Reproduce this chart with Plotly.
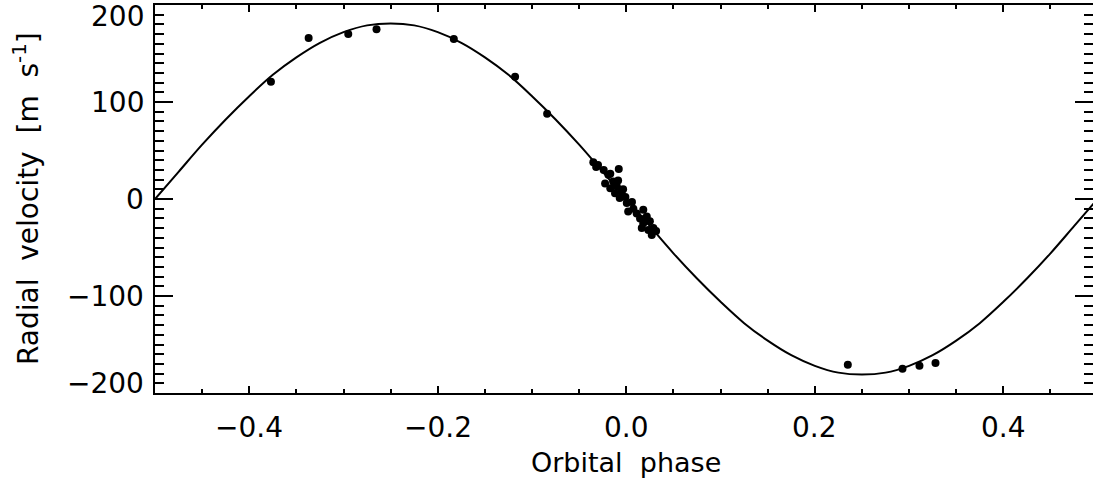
import plotly.graph_objects as go

# ---- data ----
obs_phase = [-0.377, -0.337, -0.295, -0.265, -0.183, -0.118, -0.084,
             -0.035, -0.030, -0.032, -0.024, -0.019, -0.017, -0.008, -0.0225,
             -0.014, -0.017, -0.010, -0.012, -0.005, -0.007, -0.001, 0.0005,
             0.006, 0.0075, 0.002, 0.011, 0.018, 0.0146, 0.0217, 0.018,
             0.025, 0.0164, 0.0234, 0.0287, 0.027, 0.0316, -0.0034, -0.0087,
             0.235, 0.293, 0.311, 0.328]
obs_rv = [121, 166, 170, 175, 165, 126, 88,
          38, 35, 33, 30, 25, 26, 31, 16,
          18, 11, 13, 6, 7.5, 1, 2, -4,
          -3, -10, -13, -15, -11, -20, -18, -25,
          -23, -30, -32, -30, -37, -33, 10, 19,
          -171, -175, -172, -169]

model_phase = [-0.500, -0.475, -0.450, -0.425, -0.400, -0.375, -0.350, -0.325,
               -0.300, -0.275, -0.250, -0.225, -0.200, -0.175, -0.150, -0.125,
               -0.100, -0.075, -0.050, -0.025, 0.000, 0.025, 0.050, 0.075,
               0.100, 0.125, 0.150, 0.175, 0.200, 0.225, 0.250, 0.275,
               0.300, 0.325, 0.350, 0.375, 0.400, 0.425, 0.450, 0.475, 0.500]
model_rv = [0, 28, 56, 82, 106, 128, 146, 161,
            172, 179, 181, 179, 172, 161, 146, 128,
            106, 82, 56, 28, 0, -28, -56, -82,
            -106, -128, -146, -161, -172, -179, -181, -179,
            -172, -161, -146, -128, -106, -82, -56, -28, 0]

x_ticks = [-0.4, -0.2, 0.0, 0.2, 0.4]
x_tick_text = ["\u22120.4", "\u22120.2", "0.0", "0.2", "0.4"]
y_ticks = [200, 100, 0, -100, -200]
y_tick_text = ["200", "100", "0", "\u2212100", "\u2212200"]
x_title = "Orbital\u00a0\u00a0phase"
y_title = "Radial\u00a0\u00a0velocity\u00a0\u00a0[m\u00a0\u00a0s<sup>-1</sup>]"

FONT = "DejaVu Sans"
BLACK = "black"

fig = go.Figure()
fig.add_trace(go.Scatter(x=model_phase, y=model_rv, mode="lines",
                         line=dict(color=BLACK, width=2, shape="spline"),
                         showlegend=False, hoverinfo="skip"))
fig.add_trace(go.Scatter(x=obs_phase, y=obs_rv, mode="markers",
                         marker=dict(color=BLACK, size=8, line=dict(width=0)),
                         showlegend=False))
# invisible trace so the right-hand tick axis is drawn
fig.add_trace(go.Scatter(x=[None], y=[None], yaxis="y2", showlegend=False,
                         hoverinfo="skip"))

minor_x = dict(dtick=0.05, ticks="inside", ticklen=4, tickwidth=2,
               tickcolor=BLACK, showgrid=False)
minor_y = dict(dtick=10, ticks="inside", ticklen=9, tickwidth=2,
               tickcolor=BLACK, showgrid=False)

fig.update_layout(
    template="none",
    width=1093, height=485,
    margin=dict(l=155, r=0, t=5, b=92, pad=0),
    paper_bgcolor="white", plot_bgcolor="white",
    font=dict(family=FONT, size=28, color=BLACK),
    xaxis=dict(range=[-0.5, 0.4951], showgrid=False, zeroline=False,
               automargin=False,
               showline=True, linecolor=BLACK, linewidth=2, mirror="ticks",
               ticks="inside", ticklen=7, tickwidth=2, tickcolor=BLACK,
               tickvals=x_ticks, showticklabels=False,
               minor=minor_x),
    yaxis=dict(range=[-200, 200], showgrid=False, zeroline=False,
               automargin=False,
               showline=True, linecolor=BLACK, linewidth=2, mirror=False,
               ticks="inside", ticklen=18, tickwidth=2, tickcolor=BLACK,
               tickvals=y_ticks, showticklabels=False,
               minor=minor_y),
    yaxis2=dict(range=[-200, 200], overlaying="y", side="right", anchor="x",
                automargin=False,
                showgrid=False, zeroline=False, showline=False,
                ticks="inside", ticklen=18, tickwidth=2, tickcolor=BLACK,
                tickvals=y_ticks, showticklabels=False,
                minor=minor_y),
)

tick_font = dict(family=FONT, size=28, color=BLACK)

# x tick labels
for v, t in zip(x_ticks, x_tick_text):
    fig.add_annotation(x=v, xref="x", y=0, yref="paper", text=t,
                       showarrow=False, xanchor="center", yanchor="middle",
                       yshift=-34, borderpad=0, font=tick_font)

# y tick labels (edge labels nudged inward as in the reference)
shifts = {200: -11, -200: 10}
for v, t in zip(y_ticks, y_tick_text):
    fig.add_annotation(x=0, xref="paper", y=v, yref="y", text=t,
                       showarrow=False, xanchor="right", yanchor="middle",
                       xshift=-10, yshift=shifts.get(v, 0), borderpad=0,
                       font=tick_font)

# axis titles
fig.add_annotation(x=0.502, xref="paper", y=0, yref="paper", text=x_title,
                   showarrow=False, xanchor="center", yanchor="middle",
                   yshift=-69, borderpad=0,
                   font=dict(family=FONT, size=27, color=BLACK))
fig.add_annotation(x=-0.1375, xref="paper", y=0.5, yref="paper", text=y_title,
                   showarrow=False, xanchor="center", yanchor="middle",
                   textangle=-90, borderpad=0,
                   font=dict(family=FONT, size=28, color=BLACK))

fig.write_html("out.html",
               config={"displayModeBar": False},
               post_script="document.body.style.margin='0';"
                           "document.body.style.padding='0';"
                           "document.documentElement.style.overflow='hidden';")
